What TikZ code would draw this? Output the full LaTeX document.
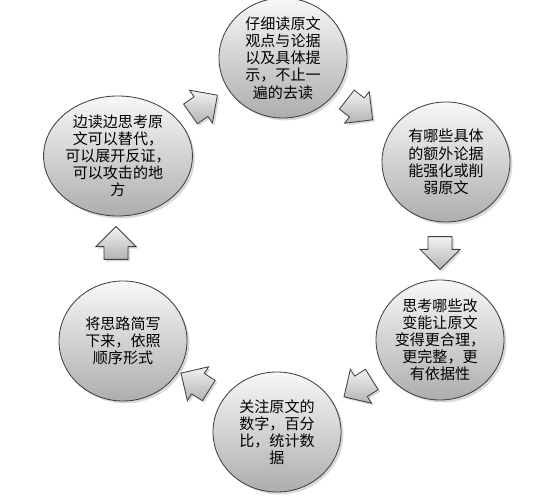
\documentclass[tikz,border=0pt]{standalone}
\usepackage{fontspec}
\newfontfamily\cjk{Noto Sans CJK SC}
\usepackage{tikz}
\usetikzlibrary{shapes.geometric, shapes.arrows, shadows}
\tikzset{
  bubble/.style={ellipse, draw=black!75, line width=0.6pt, minimum width=3.2cm, minimum height=3cm, inner sep=0pt, align=center,
    top color=black!3, bottom color=black!32, drop shadow={opacity=0.3, shadow xshift=0.6mm, shadow yshift=-0.6mm},
    font=\cjk\fontsize{10.7pt}{12.2pt}\selectfont},
  blockarrow/.style={single arrow, draw=black!75, line width=0.6pt, minimum width=1cm, minimum height=0.82cm,
    single arrow head extend=0.2cm, inner xsep=0pt, inner ysep=0.29cm, top color=black!5, bottom color=black!30,
    drop shadow={opacity=0.3, shadow xshift=0.5mm, shadow yshift=-0.5mm}},
}
\begin{document}
\begin{tikzpicture}
    \useasboundingbox (0,0) rectangle (13.85,12.525);
    \node[bubble] (read) at (7.075,11.075) {仔细读原文\\观点与论据\\以及具体提\\示，不止一\\遍的去读};
    \node[bubble] (extra) at (11.15,8.475) {有哪些具体\\的额外论据\\能强化或削\\弱原文};
    \node[bubble] (change) at (11.0,4.025) {思考哪些改\\变能让原文\\变得更合理，\\更完整，更\\有依据性};
    \node[bubble] (numbers) at (6.925,1.725) {关注原文的\\数字，百分\\比，统计数\\据};
    \node[bubble] (notes) at (3.075,4.0) {将思路简写\\下来，依照\\顺序形式};
    \node[bubble] (think) at (2.95,8.625) {边读边思考原\\文可以替代，\\可以展开反证，\\可以攻击的地\\方};
    \node[blockarrow, rotate=35] (thinkread) at (4.975,9.825) {};
    \node[blockarrow, rotate=-38] (readextra) at (8.875,9.875) {};
    \node[blockarrow, rotate=-90] (extrachange) at (11.0,6.35) {};
    \node[blockarrow, rotate=-148] (changenumbers) at (9.075,2.9) {};
    \node[blockarrow, rotate=148] (numbersnotes) at (5.0,2.9) {};
    \node[blockarrow, rotate=90] (notesthink) at (2.9,6.3) {};
  \end{tikzpicture}
\end{document}
